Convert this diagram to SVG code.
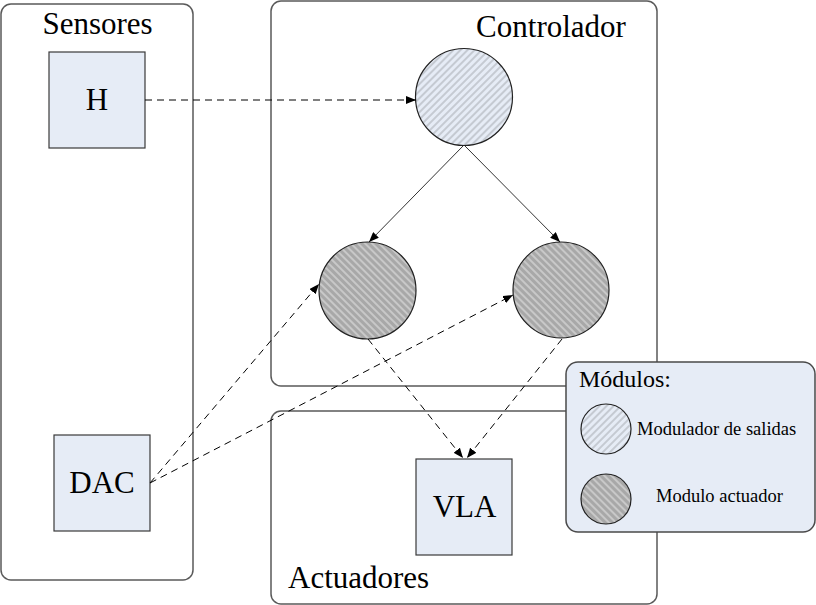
<svg xmlns="http://www.w3.org/2000/svg" width="816" height="605" viewBox="0 0 816 605">
<style>
.cont{fill:#ffffff;stroke:#5a5a5a;stroke-width:1.5}
.box{fill:#e6ecf6;stroke:#3a3a3a;stroke-width:1.2}
.lbl{font-family:'Liberation Serif','DejaVu Serif',serif;fill:#000}
.big{font-size:31px}
.dash{fill:none;stroke:#000;stroke-width:1;stroke-dasharray:7,5}
.solid{fill:none;stroke:#333;stroke-width:1}
.circ{stroke:#222;stroke-width:1.2}
</style>
<defs>
<pattern id="hatchLight" patternUnits="userSpaceOnUse" width="5" height="5" patternTransform="rotate(45)">
<rect width="5" height="5" fill="#e6ecf6"/>
<line x1="1" y1="0" x2="1" y2="5" stroke="#a4a8ae" stroke-width="1"/>
</pattern>
<pattern id="hatchDark" patternUnits="userSpaceOnUse" width="5" height="5" patternTransform="rotate(-45)">
<rect width="5" height="5" fill="#a8a8a8"/>
<line x1="1" y1="0" x2="1" y2="5" stroke="#e8e8e8" stroke-width="1"/>
</pattern>
<marker id="arr" viewBox="0 0 10 8" refX="10" refY="4" markerWidth="10" markerHeight="8" markerUnits="userSpaceOnUse" orient="auto">
<path d="M0,0 L10,4 L0,8 Z" fill="#000"/>
</marker>
</defs>

<g id="sensores">
<rect class="cont" x="1" y="4" width="192" height="576" rx="10"/>
<text class="lbl big" x="97.5" y="34" text-anchor="middle" font-family="Liberation Serif, DejaVu Serif, serif">Sensores</text>
</g>
<g id="controlador">
<rect class="cont" x="271" y="1" width="386" height="385" rx="10"/>
<text class="lbl big" x="551" y="37" text-anchor="middle" font-family="Liberation Serif, DejaVu Serif, serif">Controlador</text>
</g>
<g id="actuadores">
<rect class="cont" x="271" y="411" width="386" height="193" rx="10"/>
<text class="lbl big" x="288" y="588" font-family="Liberation Serif, DejaVu Serif, serif">Actuadores</text>
</g>

<g id="H">
<rect class="box" x="49" y="52" width="96" height="96"/>
<text class="lbl big" x="97" y="110" text-anchor="middle" font-family="Liberation Serif, DejaVu Serif, serif">H</text>
</g>
<g id="DAC">
<rect class="box" x="54" y="435" width="96" height="96"/>
<text class="lbl big" x="102" y="493" text-anchor="middle" font-family="Liberation Serif, DejaVu Serif, serif">DAC</text>
</g>
<g id="VLA">
<rect class="box" x="416" y="459" width="96" height="96"/>
<text class="lbl big" x="464.5" y="517" text-anchor="middle" font-family="Liberation Serif, DejaVu Serif, serif">VLA</text>
</g>

<g id="modulador">
<circle class="circ" cx="464" cy="97" r="48.5" fill="url(#hatchLight)"/>
</g>
<g id="actuadorL">
<circle class="circ" cx="367.5" cy="290.5" r="48.5" fill="url(#hatchDark)"/>
</g>
<g id="actuadorR">
<circle class="circ" cx="561" cy="290" r="48" fill="url(#hatchDark)"/>
</g>

<g id="connectors">
<line class="dash" x1="145" y1="100" x2="416" y2="100" marker-end="url(#arr)"/>
<line class="solid" x1="463" y1="146" x2="369" y2="242" marker-end="url(#arr)"/>
<line class="solid" x1="465" y1="146" x2="560" y2="242" marker-end="url(#arr)"/>
<line class="dash" x1="150" y1="483" x2="319" y2="284" marker-end="url(#arr)"/>
<line class="dash" x1="150" y1="483" x2="513" y2="295" marker-end="url(#arr)"/>
<line class="dash" x1="368" y1="339" x2="463" y2="458" marker-end="url(#arr)"/>
<line class="dash" x1="562" y1="339" x2="467" y2="458" marker-end="url(#arr)"/>
</g>

<g id="legend">
<rect x="566" y="362" width="249" height="170" rx="12" fill="#e6ecf6" stroke="#4a4a4a" stroke-width="1.5"/>
<text class="lbl" x="579" y="387" font-size="24" font-family="Liberation Serif, DejaVu Serif, serif">Módulos:</text>
<circle class="circ" cx="606" cy="429" r="25" fill="url(#hatchLight)"/>
<text class="lbl" x="637" y="435" font-size="18.5" font-family="Liberation Serif, DejaVu Serif, serif">Modulador de salidas</text>
<circle class="circ" cx="606" cy="499" r="25" fill="url(#hatchDark)"/>
<text class="lbl" x="656" y="502" font-size="18.5" font-family="Liberation Serif, DejaVu Serif, serif">Modulo actuador</text>
</g>
</svg>
